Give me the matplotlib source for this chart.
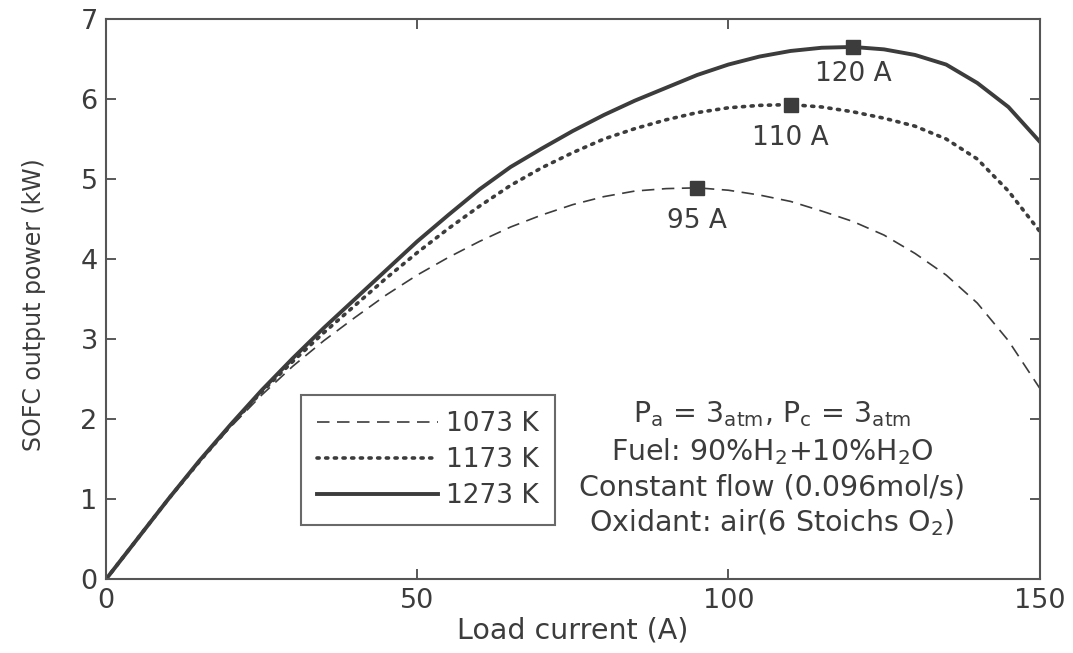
import numpy as np
import matplotlib.pyplot as plt

plt.rcParams['font.family'] = ['DejaVu Sans']
plt.rcParams['mathtext.fontset'] = 'dejavusans'
plt.rcParams['mathtext.default'] = 'regular'

# load current (A)
current = [0, 5, 10, 15, 20, 25, 30, 35, 40, 45, 50, 55, 60, 65, 70, 75,
           80, 85, 90, 95, 100, 105, 110, 115, 120, 125, 130, 135, 140, 145, 150]
# output power (kW) for each temperature
p_1073 = [0, 0.5, 1.0, 1.47, 1.9, 2.3, 2.66, 2.98, 3.27, 3.55, 3.8, 4.02, 4.22, 4.4, 4.55, 4.68,
          4.78, 4.85, 4.88, 4.89, 4.86, 4.8, 4.72, 4.6, 4.47, 4.3, 4.07, 3.8, 3.45, 2.98, 2.39]
p_1173 = [0, 0.5, 1.0, 1.47, 1.92, 2.34, 2.72, 3.08, 3.42, 3.76, 4.08, 4.38, 4.66, 4.92, 5.14, 5.33,
          5.5, 5.63, 5.74, 5.83, 5.89, 5.92, 5.93, 5.9, 5.84, 5.76, 5.66, 5.5, 5.25, 4.85, 4.35]
p_1273 = [0, 0.5, 1.0, 1.48, 1.93, 2.36, 2.76, 3.14, 3.5, 3.86, 4.22, 4.55, 4.87, 5.15, 5.38, 5.6,
          5.8, 5.98, 6.14, 6.3, 6.43, 6.53, 6.6, 6.64, 6.65, 6.62, 6.55, 6.43, 6.2, 5.9, 5.47]

peak_x = [95, 110, 120]
peak_y = [4.89, 5.93, 6.65]
peak_labels = ['95 A', '110 A', '120 A']

col = '#3c3c3c'
fig = plt.figure(figsize=(10.73, 6.53), dpi=100)
ax = fig.add_axes([0.0988, 0.113, 0.870, 0.858])

ax.plot(current, p_1073, color=col, lw=1.2, dashes=(7.5, 4.5), label='1073 K')
ax.plot(current, p_1173, color=col, lw=2.6, dashes=(0.6, 1.8), dash_capstyle='round', label='1173 K')
ax.plot(current, p_1273, color=col, lw=2.8, label='1273 K')
ax.plot(peak_x, peak_y, 's', color=col, ms=10, mec=col)

offs = [-0.42, -0.42, -0.34]
for px, py, lab, o in zip(peak_x, peak_y, peak_labels, offs):
    ax.text(px, py + o, lab, ha='center', va='center', fontsize=19, color=col)

ax.set_xlim(0, 150)
ax.set_ylim(0, 7)
ax.set_xticks([0, 50, 100, 150])
ax.set_yticks(range(8))
ax.tick_params(direction='in', top=True, right=True, length=7, width=1.2,
               labelsize=19.5, colors=col, pad=6)
for s in ax.spines.values():
    s.set_color('#555555')
    s.set_linewidth(1.5)
ax.set_xlabel('Load current (A)', fontsize=20.5, color=col, labelpad=2)
ax.set_ylabel('SOFC output power (kW)', fontsize=17, color=col)
ax.yaxis.set_label_coords(-0.064, 0.49)

leg = ax.legend(loc='lower left', bbox_to_anchor=(0.209, 0.097), fontsize=19,
                frameon=True, fancybox=False, handlelength=4.6, handletextpad=0.3,
                labelspacing=0.38, borderpad=0.6, borderaxespad=0, labelcolor=col)
leg.get_frame().set_edgecolor('#444444')
leg.get_frame().set_linewidth(1.5)

info = [r'P$_{a}$ = 3$_{atm}$, P$_{c}$ = 3$_{atm}$',
        r'Fuel: 90%H$_2$+10%H$_2$O',
        'Constant flow (0.096mol/s)',
        r'Oxidant: air(6 Stoichs O$_2$)']
info_y = [2.06, 1.6, 1.15, 0.71]
for t, yy in zip(info, info_y):
    ax.text(107.0, yy, t, ha='center', va='center', fontsize=20.5, color=col)

plt.savefig('out.png', dpi=100)
